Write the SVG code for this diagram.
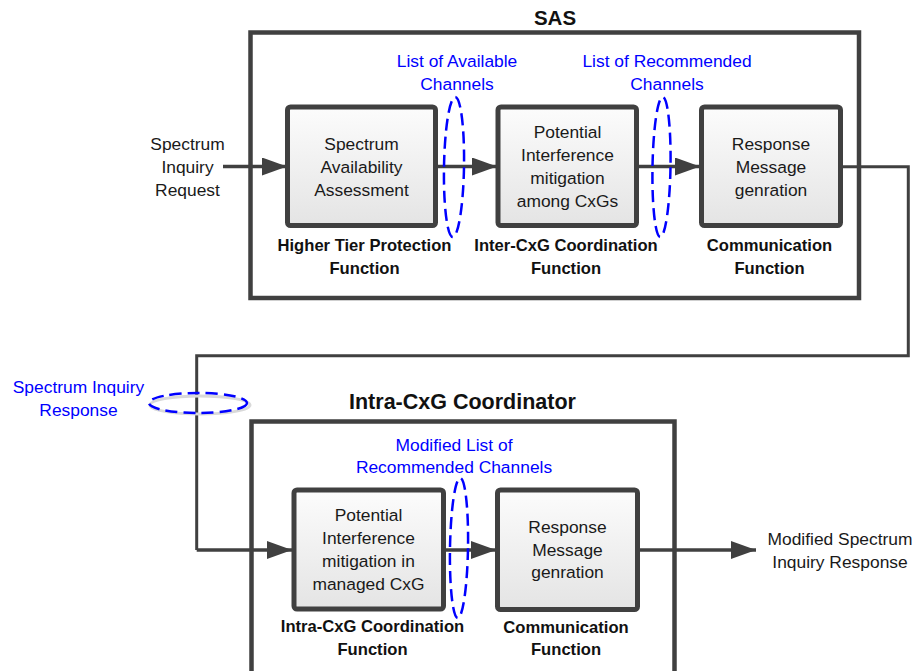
<svg xmlns="http://www.w3.org/2000/svg" width="917" height="671" viewBox="0 0 917 671">
<defs>
<linearGradient id="boxfill" x1="0" y1="0" x2="0" y2="1">
<stop offset="0" stop-color="#fcfcfc"/>
<stop offset="1" stop-color="#e4e4e4"/>
</linearGradient>
<marker id="ah" markerUnits="userSpaceOnUse" markerWidth="25" markerHeight="18" refX="25" refY="9" orient="auto">
<path d="M0,0 L25,9 L0,18 z" fill="#404040"/>
</marker>
</defs>
<style>
.container{fill:none;stroke:#404040;stroke-width:4.5}
.box{fill:url(#boxfill);stroke:#404040;stroke-width:5}
.t{font-family:"Liberation Sans",Arial,sans-serif;font-size:17.4px;fill:#1a1a1a;text-anchor:middle}
.b{font-family:"Liberation Sans",Arial,sans-serif;font-size:16.6px;font-weight:bold;fill:#111;text-anchor:middle}
.title{font-family:"Liberation Sans",Arial,sans-serif;font-weight:bold;fill:#111;text-anchor:middle}
.blue{font-family:"Liberation Sans",Arial,sans-serif;font-size:17.4px;fill:#0000ff;text-anchor:middle}
.arrow{fill:none;stroke:#404040;stroke-width:3.5;marker-end:url(#ah)}
.conn{fill:none;stroke:#404040;stroke-width:3}
.dash{fill:none;stroke:#0000ff;stroke-width:2.5;stroke-dasharray:12 6}
</style>

<g id="sas">
<rect class="container" x="250.5" y="32.5" width="608.5" height="265.5"/>
<text class="title" x="555" y="25" font-size="20.5">SAS</text>
</g>

<g id="intra">
<rect class="container" x="251.5" y="421.5" width="423" height="300"/>
<text class="title" x="462.5" y="409" font-size="21.5">Intra-CxG Coordinator</text>
</g>

<g id="connectors">
<path class="arrow" d="M223,166.5 H287"/>
<path class="arrow" d="M435.5,166.5 H497"/>
<path class="arrow" d="M636.5,166.5 H700"/>
<path class="conn" d="M840.5,166.7 H908.3 V355.7 H196.7 V550"/>
<path class="arrow" d="M196.7,550 H292"/>
<path class="arrow" d="M443.5,550 H496"/>
<path class="arrow" d="M637.5,550 H756"/>
</g>

<g id="request">
<text class="t" x="187.5" y="150">Spectrum</text>
<text class="t" x="187.5" y="173">Inquiry</text>
<text class="t" x="187.5" y="196">Request</text>
</g>

<g id="box1">
<rect class="box" x="287.5" y="107" width="148" height="118.5" rx="3"/>
<text class="t" x="361.5" y="150">Spectrum</text>
<text class="t" x="361.5" y="173">Availability</text>
<text class="t" x="361.5" y="196">Assessment</text>
<text class="b" x="364.5" y="251">Higher Tier Protection</text>
<text class="b" x="364.5" y="274">Function</text>
</g>

<g id="box2">
<rect class="box" x="498" y="107" width="138.5" height="118.5" rx="3"/>
<text class="t" x="567.5" y="138">Potential</text>
<text class="t" x="567.5" y="161">Interference</text>
<text class="t" x="567.5" y="184">mitigation</text>
<text class="t" x="567.5" y="207">among CxGs</text>
<text class="b" x="566" y="251">Inter-CxG Coordination</text>
<text class="b" x="566" y="274">Function</text>
</g>

<g id="box3">
<rect class="box" x="701.5" y="107" width="139" height="118.5" rx="3"/>
<text class="t" x="771" y="150">Response</text>
<text class="t" x="771" y="173">Message</text>
<text class="t" x="771" y="196">genration</text>
<text class="b" x="769.5" y="251">Communication</text>
<text class="b" x="769.5" y="274">Function</text>
</g>

<g id="box4">
<rect class="box" x="294" y="490" width="149.5" height="119" rx="3"/>
<text class="t" x="368.5" y="521">Potential</text>
<text class="t" x="368.5" y="544">Interference</text>
<text class="t" x="368.5" y="567">mitigation in</text>
<text class="t" x="368.5" y="590">managed CxG</text>
<text class="b" x="372.5" y="632">Intra-CxG Coordination</text>
<text class="b" x="372.5" y="655">Function</text>
</g>

<g id="box5">
<rect class="box" x="497.5" y="490" width="140" height="119.5" rx="3"/>
<text class="t" x="567.5" y="533">Response</text>
<text class="t" x="567.5" y="556">Message</text>
<text class="t" x="567.5" y="578">genration</text>
<text class="b" x="566" y="633">Communication</text>
<text class="b" x="566" y="655">Function</text>
</g>

<g id="output">
<text class="t" x="840" y="545">Modified Spectrum</text>
<text class="t" x="840" y="568">Inquiry Response</text>
</g>

<g id="label-available">
<ellipse class="dash" cx="454" cy="167" rx="10" ry="70" transform="rotate(1 454 167)"/>
<text class="blue" x="457" y="67">List of Available</text>
<text class="blue" x="457" y="90">Channels</text>
</g>

<g id="label-recommended">
<ellipse class="dash" cx="661.5" cy="167" rx="9" ry="70" transform="rotate(1 661.5 167)"/>
<text class="blue" x="667" y="67">List of Recommended</text>
<text class="blue" x="667" y="90">Channels</text>
</g>

<g id="label-modified">
<ellipse class="dash" cx="459" cy="548" rx="9" ry="70" transform="rotate(1 459 548)"/>
<text class="blue" x="454" y="451">Modified List of</text>
<text class="blue" x="454" y="473">Recommended Channels</text>
</g>

<g id="label-response">
<ellipse cx="200" cy="405" rx="50" ry="9" fill="none" stroke="#d9d9d9" stroke-width="3"/>
<ellipse class="dash" cx="198" cy="403" rx="49" ry="10"/>
<text class="blue" x="78.5" y="393">Spectrum Inquiry</text>
<text class="blue" x="78.5" y="416">Response</text>
</g>
</svg>
